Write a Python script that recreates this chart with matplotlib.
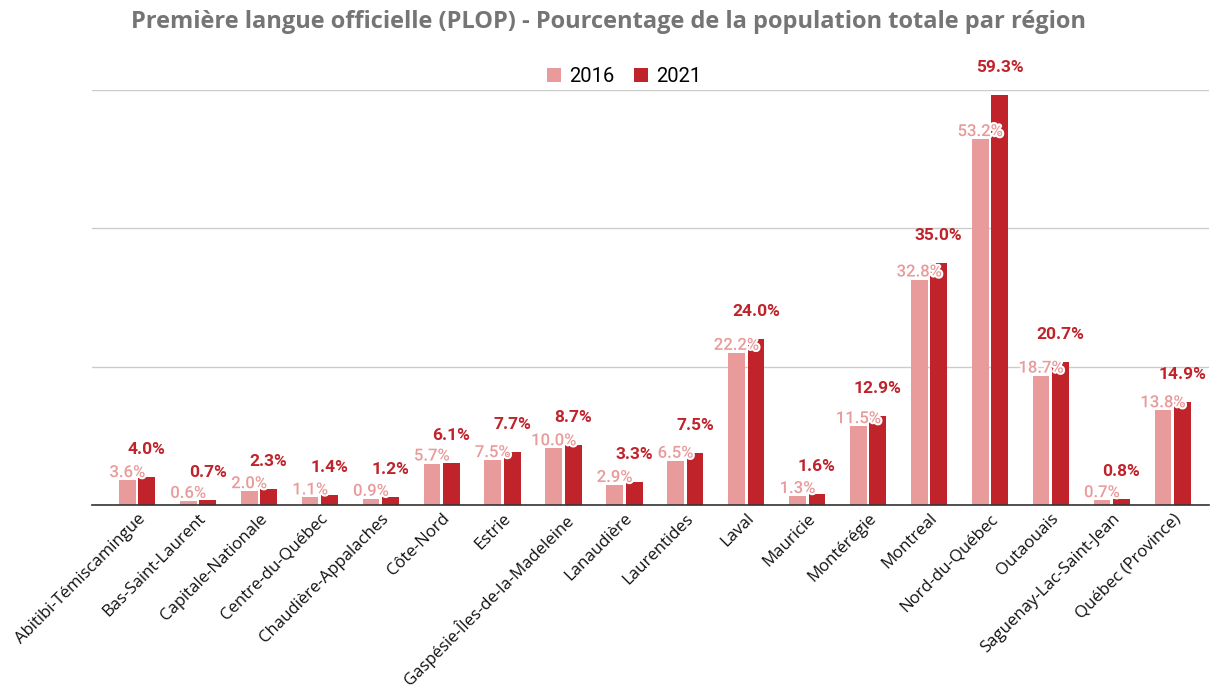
import numpy as np
import matplotlib.pyplot as plt
import matplotlib.patheffects as pe

regions = ["Abitibi-Témiscamingue", "Bas-Saint-Laurent", "Capitale-Nationale",
           "Centre-du-Québec", "Chaudière-Appalaches", "Côte-Nord", "Estrie",
           "Gaspésie-Îles-de-la-Madeleine", "Lanaudière", "Laurentides", "Laval",
           "Mauricie", "Montérégie", "Montreal", "Nord-du-Québec", "Outaouais",
           "Saguenay-Lac-Saint-Jean", "Québec (Province)"]
# bar heights as drawn
pct_2016 = [3.6, 0.6, 2.0, 1.1, 0.9, 6.0, 6.5, 8.2, 2.9, 6.4, 22.0, 1.3, 11.4, 32.6, 52.9, 18.7, 0.7, 13.7]
pct_2021 = [4.0, 0.7, 2.3, 1.4, 1.2, 6.1, 7.7, 8.7, 3.3, 7.5, 24.0, 1.6, 12.9, 35.0, 59.3, 20.7, 0.8, 14.9]
# labels as printed
labels_2016 = ["3.6%", "0.6%", "2.0%", "1.1%", "0.9%", "5.7%", "7.5%", "10.0%", "2.9%", "6.5%",
               "22.2%", "1.3%", "11.5%", "32.8%", "53.2%", "18.7%", "0.7%", "13.8%"]

c16 = "#E99B9B"
c21 = "#C1232B"

fig = plt.figure(figsize=(12.17, 6.92), dpi=100)
ax = fig.add_axes([0.0756, 0.2702, 0.918, 0.5998])

x = np.arange(len(regions))
w = 0.275
off = 0.16
ax.bar(x - off, pct_2016, w, color=c16, label="2016", zorder=3)
ax.bar(x + off, pct_2021, w, color=c21, label="2021", zorder=3)

for xi, v, lab in zip(x, pct_2016, labels_2016):
    ax.text(xi - off, v, lab, ha="center", va="bottom", color=c16,
            fontsize=12, fontweight="medium", family="Roboto", zorder=5,
            path_effects=[pe.withStroke(linewidth=3, foreground="white")])
for xi, v in zip(x, pct_2021):
    ax.text(xi + off, v + 2.9, f"{v:.1f}%", ha="center", va="bottom", color=c21,
            fontsize=12.5, fontweight="bold", family="Roboto", zorder=5, clip_on=False)

ax.set_xlim(-0.74, 17.6)
ax.set_ylim(0, 60)
ax.set_yticks([0, 20, 40, 60])
ax.yaxis.grid(True, color="#cccccc", linewidth=1, zorder=0)
ax.tick_params(axis="y", left=False, labelleft=False)
ax.tick_params(axis="x", length=0, pad=4)
for s in ["top", "right", "left"]:
    ax.spines[s].set_visible(False)
ax.spines["bottom"].set_color("#333333")
ax.spines["bottom"].set_linewidth(1.2)
ax.spines["bottom"].set_zorder(4)

ax.set_xticks(x)
ax.set_xticklabels(regions, rotation=45, ha="right", rotation_mode="anchor",
                   fontsize=12.1, family="Open Sans", color="#111111")

fig.text(0.5, 0.968, "Première langue officielle (PLOP) - Pourcentage de la population totale par région",
         ha="center", va="center", fontsize=17, fontweight="bold", family="Open Sans", color="#757575")

fig.legend(loc="center", bbox_to_anchor=(0.513, 0.889), ncol=2, frameon=False,
           prop={"family": "Roboto", "size": 14.5}, handlelength=0.7, handleheight=0.7,
           handletextpad=0.4, columnspacing=1.0)

fig.savefig("out.png", dpi=100)
